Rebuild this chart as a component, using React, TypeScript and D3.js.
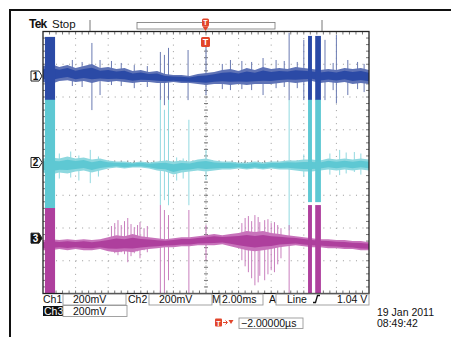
import { useEffect, useRef } from 'react';
import * as d3 from 'd3';

// sample times (ms), M 2.00ms/div, trigger at centre
const times = [-10, -9.5, -9, -8.5, -8, -7.5, -7, -6.5, -6, -5.5, -5, -4.5, -4, -3.5, -3, -2.5, -2, -1.5, -1, -0.5, 0,
  0.5, 1, 1.5, 2, 2.5, 3, 3.5, 4, 4.5, 5, 5.5, 6, 6.5, 7, 7.5, 8, 8.5, 9, 9.5, 10];

// noise envelope of each trace, mV relative to its ground marker
const ch1Top = [61, 74, 55, 67, 49, 61, 74, 49, 55, 43, 49, 31, 37, 25, 31, 12, 6, 6, 0, 12, 18, 25, 37, 43, 31, 49, 37, 55, 43, 49, 43, 55, 49, 43, 37, 43, 37, 49, 43, 49, 37];
const ch1Bottom = [-37, -49, -31, -25, -37, -31, -43, -31, -37, -31, -37, -43, -37, -37, -43, -43, -37, -43, -43, -49, -55, -49, -49, -55, -49, -55, -49, -49, -49, -43, -37, -43, -37, -31, -43, -37, -43, -37, -49, -43, -49];
const ch2Top = [25, 31, 25, 37, 25, 31, 18, 25, 12, 6, 6, 0, 6, 0, 6, 12, 6, 12, 6, 18, 25, 12, 6, 6, 0, 0, 6, 0, 6, 6, 12, 12, 18, 18, 12, 25, 18, 25, 18, 25, 18];
const ch2Bottom = [-61, -74, -61, -67, -55, -49, -61, -49, -37, -31, -37, -31, -31, -37, -49, -55, -74, -61, -55, -49, -55, -49, -43, -43, -37, -43, -37, -43, -37, -43, -43, -49, -55, -55, -49, -43, -49, -43, -49, -43, -49];
const ch3Top = [-12, -6, -12, -6, -12, -6, -12, -6, 6, 18, 12, 25, 12, 6, 0, -6, 0, 6, 6, 12, 18, 25, 18, 25, 31, 43, 37, 43, 31, 25, 18, 12, 6, 0, -6, -6, -12, -12, -18, -18, -25];
const ch3Bottom = [-74, -74, -67, -74, -67, -74, -74, -67, -80, -86, -80, -86, -74, -67, -61, -55, -55, -49, -49, -43, -43, -43, -37, -49, -61, -74, -80, -74, -67, -55, -49, -43, -49, -55, -55, -61, -61, -67, -67, -74, -74];

// isolated glitches: [time ms, top mV, bottom mV]
const ch1Spikes = [[-8.2, 98, -61], [-7.6, 86, -67], [-7, 202, -208], [-6.5, 98, -116], [-5.8, 92, -55], [-5.2, 80, -61],
  [-4.4, 67, -74], [-3.6, 61, -67], [-2.8, 147, -147], [-2.55, 129, -178], [-2.3, 172, -208], [-1.1, 159, -147],
  [0, 190, -116], [1.0, 74, -80], [1.5, 98, -86], [2.2, 92, -80], [2.8, 86, -86], [3.5, 110, -116], [4.3, 98, -74],
  [4.8, 92, -67], [5.1, 264, -147], [5.6, 86, -74], [6.0, 221, -147], [7.3, 221, -147], [7.8, 80, -86], [8.0, 251, -166],
  [8.7, 98, -116], [9.3, 86, -80], [9.7, 74, -98]];
const ch2Spikes = [[-9, 55, -98], [-8.3, 67, -92], [-7.8, 43, -110], [-7.1, 77, -126], [-6.6, 37, -86], [-2.8, 383, -261],
  [-2.55, 322, -230], [-2.3, 383, -261], [-1.8, 31, -110], [-1.4, 25, -98], [-1.05, 261, -261], [0, 77, -107],
  [5.1, 383, -414], [6.0, 49, -86], [7.6, 55, -74], [8.2, 77, -77], [8.6, 61, -67], [9.1, 64, -58], [9.5, 55, -74]];
const ch3Spikes = [[-5.8, 74, -80], [-5.6, 92, -92], [-5.4, 110, -104], [-5.2, 80, -86], [-5.0, 104, -98], [-4.8, 123, -147],
  [-4.6, 86, -110], [-4.4, 67, -92], [-4.2, 80, -80], [-4.05, 98, -123], [-3.8, 61, -74], [-3.6, 74, -86],
  [-2.8, 202, -337], [-2.55, 172, -337], [-2.3, 141, -257], [-1.05, 172, -337], [0, 80, -135], [2.2, 92, -135],
  [2.4, 123, -172], [2.6, 135, -208], [2.8, 104, -245], [3.0, 141, -288], [3.2, 129, -270], [3.3, 98, -230],
  [3.6, 110, -257], [3.8, 116, -221], [4.0, 92, -196], [4.2, 98, -208], [4.4, 80, -160], [4.6, 61, -123], [5.1, 80, -337]];

// saturated bursts: [t0, t1, top mV, bottom mV]
const ch1Bursts = [[-9.88, -9.26, 239, -147], [6.26, 6.5, 245, -147], [6.7, 7.05, 245, -147]];
const ch2Bursts = [[-9.88, -9.26, 383, -279], [6.26, 6.5, 383, -242], [6.7, 7.05, 383, -242]];
const ch3Bursts = [[-9.88, -9.26, 184, -337], [6.26, 6.5, 202, -337], [6.7, 7.05, 202, -337]];

const channels = [
  { id: '1', color: '#2b4aa6', light: '#5f73b6', spike: '#6a7ab2', posDiv: 2.64, top: ch1Top, bottom: ch1Bottom, spikes: ch1Spikes, bursts: ch1Bursts },
  { id: '2', color: '#5ec8d3', light: '#8ed8df', spike: '#92d9e0', posDiv: 0, top: ch2Top, bottom: ch2Bottom, spikes: ch2Spikes, bursts: ch2Bursts },
  { id: '3', color: '#ae3f9d', light: '#c873bb', spike: '#c97fbe', posDiv: -2.31, top: ch3Top, bottom: ch3Bottom, spikes: ch3Spikes, bursts: ch3Bursts },
];

const W = 451;
const H = 337;
const FONT = '"Liberation Sans", Arial, sans-serif';

const App = () => {
  const ref = useRef<SVGSVGElement>(null);

  useEffect(() => {
    const svg = d3.select(ref.current);
    svg.selectAll('*').remove();

    const gl = 43, gr = 369, gt = 31.5, gb = 293.5;
    const x = d3.scaleLinear().domain([-10, 10]).range([gl, gr]);
    const y = d3.scaleLinear().domain([-800, 800]).range([gb, gt]);
    const divX = (gr - gl) / 10;
    const divY = (gb - gt) / 8;

    svg.append('rect').attr('width', W).attr('height', H).attr('fill', '#fff');

    // outer frame
    svg.append('path').attr('d', `M10,${H} V10 H${W}`).attr('fill', 'none').attr('stroke', '#111').attr('stroke-width', 2);

    // grid
    const grid = svg.append('g');
    for (let i = 1; i < 10; i++) {
      if (i === 5) continue;
      grid.append('line').attr('x1', gl + i * divX).attr('x2', gl + i * divX).attr('y1', gt).attr('y2', gb)
        .attr('stroke', '#9a9a9a').attr('stroke-dasharray', `1,${divY / 5 - 1}`);
    }
    for (let j = 1; j < 8; j++) {
      if (j === 4) continue;
      grid.append('line').attr('y1', gt + j * divY).attr('y2', gt + j * divY).attr('x1', gl).attr('x2', gr)
        .attr('stroke', '#9a9a9a').attr('stroke-dasharray', `1,${divX / 5 - 1}`);
    }
    // centre cross with minor ticks
    const cx = (gl + gr) / 2, cy = (gt + gb) / 2;
    grid.append('line').attr('x1', cx).attr('x2', cx).attr('y1', gt).attr('y2', gb)
      .attr('stroke', '#888').attr('stroke-dasharray', '1,2');
    grid.append('line').attr('y1', cy).attr('y2', cy).attr('x1', gl).attr('x2', gr)
      .attr('stroke', '#888').attr('stroke-dasharray', '1,2');
    for (let k = 1; k < 50; k++) {
      const xx = gl + (k * divX) / 5;
      grid.append('line').attr('x1', xx).attr('x2', xx).attr('y1', cy - 2).attr('y2', cy + 2).attr('stroke', '#777');
      grid.append('line').attr('x1', xx).attr('x2', xx).attr('y1', gt).attr('y2', gt + 3).attr('stroke', '#777');
      grid.append('line').attr('x1', xx).attr('x2', xx).attr('y1', gb - 3).attr('y2', gb).attr('stroke', '#777');
    }
    for (let k = 1; k < 40; k++) {
      const yy = gt + (k * divY) / 5;
      grid.append('line').attr('y1', yy).attr('y2', yy).attr('x1', cx - 2).attr('x2', cx + 2).attr('stroke', '#777');
      grid.append('line').attr('y1', yy).attr('y2', yy).attr('x1', gl).attr('x2', gl + 3).attr('stroke', '#777');
      grid.append('line').attr('y1', yy).attr('y2', yy).attr('x1', gr - 3).attr('x2', gr).attr('stroke', '#777');
    }

    // traces
    svg.append('clipPath').attr('id', 'plotClip').append('rect')
      .attr('x', gl).attr('y', gt).attr('width', gr - gl).attr('height', gb - gt);
    const traces = svg.append('g').attr('clip-path', 'url(#plotClip)');

    channels.forEach(ch => {
      const off = ch.posDiv * 200;
      const g = traces.append('g');
      ch.spikes.forEach(s => {
        g.append('line').attr('x1', x(s[0])).attr('x2', x(s[0]))
          .attr('y1', y(s[1] + off)).attr('y2', y(s[2] + off))
          .attr('stroke', ch.spike).attr('stroke-width', 1);
      });
      // outer ragged envelope (lighter), then denser core
      const outer = d3.area<number>()
        .x((_, i) => x(times[i]))
        .y0((_, i) => y(ch.bottom[i] + off))
        .y1(d => y(d + off));
      g.append('path').attr('d', outer(ch.top)).attr('fill', ch.light);
      const core = d3.area<number>()
        .x((_, i) => x(times[i]))
        .y0((d, i) => y((d + ch.bottom[i]) / 2 + (ch.bottom[i] - d) * 0.3 + off))
        .y1((d, i) => y((d + ch.bottom[i]) / 2 + (d - ch.bottom[i]) * 0.3 + off));
      g.append('path').attr('d', core(ch.top)).attr('fill', ch.color);
      ch.bursts.forEach(b => {
        g.append('rect').attr('x', x(b[0])).attr('width', x(b[1]) - x(b[0]))
          .attr('y', y(b[2] + off)).attr('height', y(b[3] + off) - y(b[2] + off))
          .attr('fill', ch.color);
      });
    });

    // graticule border
    svg.append('rect').attr('x', gl).attr('y', gt).attr('width', gr - gl).attr('height', gb - gt)
      .attr('fill', 'none').attr('stroke', '#222').attr('stroke-width', 1.3);

    // channel ground markers
    channels.forEach(ch => {
      const my = y(ch.posDiv * 200);
      const filled = ch.id === '3';
      const m = svg.append('g').attr('transform', `translate(31,${my})`);
      m.append('path').attr('d', 'M0,-5 H8 L11,0 L8,5 H0 Z')
        .attr('fill', filled ? '#111' : '#fff').attr('stroke', '#222').attr('stroke-width', 1);
      m.append('text').attr('x', 4.5).attr('y', 3.8).attr('text-anchor', 'middle')
        .attr('font-family', FONT).attr('font-size', 10).attr('font-weight', 'bold')
        .attr('fill', filled ? '#fff' : '#111').text(ch.id);
    });

    // header: Tek Stop and record bar
    svg.append('text').attr('x', 29).attr('y', 28).attr('font-family', FONT).attr('font-size', 12)
      .attr('font-weight', 'bold').attr('fill', '#111').attr('letter-spacing', -0.8).text('Tek');
    svg.append('text').attr('x', 52).attr('y', 28).attr('font-family', FONT).attr('font-size', 11.5)
      .attr('fill', '#111').text('Stop');
    svg.append('line').attr('x1', 90).attr('x2', 90).attr('y1', 20).attr('y2', 31).attr('stroke', '#777');
    svg.append('line').attr('x1', 322).attr('x2', 322).attr('y1', 20).attr('y2', 31).attr('stroke', '#777');
    svg.append('rect').attr('x', 137).attr('y', 22.5).attr('width', 138).attr('height', 6.5)
      .attr('fill', 'none').attr('stroke', '#777').attr('stroke-width', 0.8);

    // trigger markers
    const trig = (tx: number, ty: number, w: number, h: number) => {
      const g = svg.append('g');
      g.append('rect').attr('x', tx - w / 2).attr('y', ty).attr('width', w).attr('height', h).attr('rx', 1.5).attr('fill', '#e2452b');
      g.append('text').attr('x', tx).attr('y', ty + h - 2).attr('text-anchor', 'middle').attr('font-family', FONT)
        .attr('font-size', h - 1).attr('font-weight', 'bold').attr('fill', '#fff').text('T');
    };
    trig(205.5, 18.5, 7, 8);
    svg.append('path').attr('d', 'M202.5,26.5 L208.5,26.5 L205.5,31 Z').attr('fill', '#e2452b');
    trig(205.5, 37, 9, 10);

    // readout
    const txt = (tx: number, ty: number, s: string, fill = '#111', size = 10.5) =>
      svg.append('text').attr('x', tx).attr('y', ty).attr('font-family', FONT).attr('font-size', size)
        .attr('fill', fill).text(s);
    const box = (bx: number, by: number, bw: number, bh: number) =>
      svg.append('rect').attr('x', bx).attr('y', by).attr('width', bw).attr('height', bh)
        .attr('fill', 'none').attr('stroke', '#999').attr('stroke-width', 0.9);

    txt(43, 303, 'Ch1');
    box(63, 294, 63, 11); txt(73, 303, '200mV');
    txt(128, 303, 'Ch2');
    box(149, 294, 63, 11); txt(159, 303, '200mV');
    txt(212, 303, 'M');
    box(220, 294, 43, 11); txt(222, 303, '2.00ms');
    txt(269, 303, 'A');
    box(276, 294, 93, 11); txt(287, 303, 'Line');
    svg.append('path').attr('d', 'M313,302.5 h2.5 l2,-7 h2.5').attr('fill', 'none').attr('stroke', '#111').attr('stroke-width', 1.3);
    txt(337, 303, '1.04 V');

    svg.append('rect').attr('x', 43).attr('y', 306).attr('width', 20).attr('height', 10).attr('fill', '#111');
    txt(44, 315, 'Ch3', '#fff');
    box(63, 305.5, 64, 11); txt(73, 315, '200mV');

    // trigger position
    svg.append('rect').attr('x', 215).attr('y', 318.5).attr('width', 7).attr('height', 8).attr('rx', 1).attr('fill', '#e2452b');
    svg.append('text').attr('x', 218.5).attr('y', 325.5).attr('text-anchor', 'middle').attr('font-family', FONT)
      .attr('font-size', 7).attr('font-weight', 'bold').attr('fill', '#fff').text('T');
    svg.append('path').attr('d', 'M223,322.5 h4 M225.5,320.5 l2,2 l-2,2').attr('fill', 'none').attr('stroke', '#e2452b').attr('stroke-width', 1);
    svg.append('path').attr('d', 'M228.5,320 h5 l-2.5,4 Z').attr('fill', '#e2452b');
    box(239, 318, 64, 10.5); txt(241, 327, '\u22122.00000\u00b5s');

    txt(377, 316, '19 Jan  2011');
    txt(377, 326.5, '08:49:42');
  }, []);

  return (
    <svg ref={ref} width={W} height={H} viewBox={`0 0 ${W} ${H}`}
      style={{ position: 'absolute', left: 0, top: 0, display: 'block' }} />
  );
};

export default App;
